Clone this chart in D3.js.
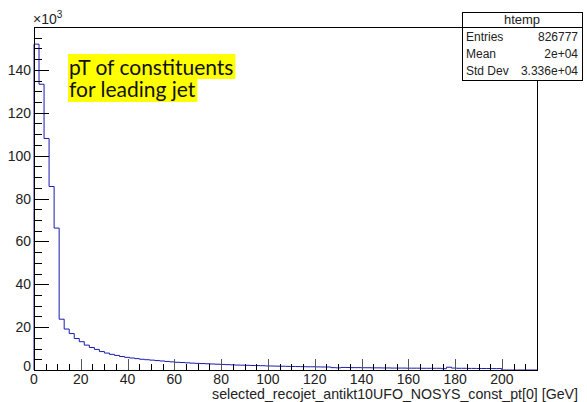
<!DOCTYPE html>
<html>
<head>
<meta charset="utf-8">
<script src="https://cdn.jsdelivr.net/npm/d3@7"></script>
<style>
  body { margin: 0; background: #fff; }
  svg { display: block; }
</style>
</head>
<body>
<script>
// --- Data (counts in units of 10^3, 100 bins of width 2.15 GeV) ---
const binWidth = 2.15;
const counts = [
  152, 133.3, 108, 85.6, 66.2, 23.7, 19.1, 17.0, 14.7, 13.2,
  11.6, 10.5, 9.6, 8.6, 7.9, 7.3, 6.8, 6.3, 5.9, 5.6,
  5.3, 5.0, 4.8, 4.6, 4.4, 4.2, 4.0, 3.8, 3.6, 3.5,
  3.35, 3.2, 3.1, 3.0, 2.9, 2.8, 2.7, 2.6, 2.5, 2.4,
  2.3, 2.25, 2.2, 2.1, 2.05, 2.0, 1.9, 1.85, 1.8, 1.75,
  1.7, 1.65, 1.6, 1.55, 1.5, 1.5, 1.45, 1.4, 1.4, 1.1,
  1.0, 1.2, 1.15, 1.1, 1.1, 1.05, 1.05, 1.0, 1.0, 0.95,
  0.95, 0.9, 0.9, 0.9, 0.85, 0.85, 0.85, 0.8, 0.8, 0.8,
  0.8, 0.6, 1.3, 0.9, 0.8, 0.8, 0.75, 0.75, 0.7, 0.7,
  0.7, 0.65, 0.65, 0, 0, 0, 0, 0, 0, 0
];
const xMajorTicks = [0, 20, 40, 60, 80, 100, 120, 140, 160, 180, 200];
const yMajorTicks = [0, 20, 40, 60, 80, 100, 120, 140];
const statsRows = [["Entries", "826777"], ["Mean", "2e+04"], ["Std Dev", "3.336e+04"]];
const labelLines = ["pT of constituents", "for leading jet"];

// --- Layout ---
const W = 587, H = 402;
const frame = { left: 34, right: 537, top: 27, bottom: 370 };

const x = d3.scaleLinear().domain([0, counts.length * binWidth]).range([frame.left, frame.right]);
const y = d3.scaleLinear().domain([0, 160]).range([frame.bottom, frame.top]);

const svg = d3.select("body").append("svg").attr("width", W).attr("height", H);

// --- Histogram outline (step path) ---
let pts = [[x(0), y(0)]];
counts.forEach((c, i) => {
  pts.push([x(i * binWidth), y(c)]);
  pts.push([x((i + 1) * binWidth), y(c)]);
});
pts.push([x(counts.length * binWidth), y(0)]);
svg.append("path")
  .attr("d", d3.line()(pts))
  .attr("fill", "none")
  .attr("stroke", "#1a1ab0")
  .attr("stroke-width", 1);

// --- Ticks ---
const tickFont = "Liberation Sans, Arial, sans-serif";
const ticks = svg.append("g").attr("stroke", "#000").attr("stroke-width", 1);
const xMinor = d3.range(0, 215.01, 5);
xMinor.forEach(v => {
  const major = v % 20 === 0;
  const len = major ? 11 : 6;
  const px = Math.round(x(v)) + 0.5;
  ticks.append("line").attr("x1", px).attr("x2", px)
    .attr("y1", frame.bottom).attr("y2", frame.bottom - len)
    .attr("stroke", major ? "#555" : "#000");
});
const yMinor = d3.range(0, 160, 5);
yMinor.forEach(v => {
  const major = v % 20 === 0;
  const len = major ? 15 : 8;
  const py = Math.round(y(v)) + 0.5;
  ticks.append("line").attr("x1", frame.left).attr("x2", frame.left + len)
    .attr("y1", py).attr("y2", py);
});

// --- Frame ---
svg.append("rect")
  .attr("x", frame.left + 0.5).attr("y", frame.top + 0.5)
  .attr("width", frame.right - frame.left).attr("height", frame.bottom - frame.top)
  .attr("fill", "none").attr("stroke", "#000");

// --- Tick labels ---
svg.append("g").selectAll("text").data(xMajorTicks).join("text")
  .attr("x", d => x(d)).attr("y", 384)
  .attr("text-anchor", "middle")
  .style("font", `14px ${tickFont}`).attr("fill", "#222")
  .text(d => d);
svg.append("g").selectAll("text").data(yMajorTicks).join("text")
  .attr("x", 31).attr("y", d => y(d) + (d === 0 ? 1 : 5))
  .attr("text-anchor", "end")
  .style("font", `14px ${tickFont}`).attr("fill", "#222")
  .text(d => d);

// exponent label
const exp = svg.append("text").attr("x", 33).attr("y", 24)
  .style("font", `14px ${tickFont}`).attr("fill", "#222");
exp.append("tspan").text("\u00d710");
exp.append("tspan").attr("dy", -6).style("font-size", "10px").text("3");

// axis title
svg.append("text").attr("x", 578).attr("y", 399)
  .attr("text-anchor", "end")
  .style("font", `14.2px ${tickFont}`).attr("fill", "#222")
  .text("selected_recojet_antikt10UFO_NOSYS_const_pt[0] [GeV]");

// --- Stats box ---
const box = { x: 462, y: 12, w: 120, head: 15, row: 17 };
const g = svg.append("g");
g.append("rect").attr("x", box.x + 0.5).attr("y", box.y + 0.5)
  .attr("width", box.w).attr("height", box.head + box.row * statsRows.length + 2)
  .attr("fill", "#fff").attr("stroke", "#000");
g.append("line").attr("x1", box.x).attr("x2", box.x + box.w)
  .attr("y1", box.y + box.head + 0.5).attr("y2", box.y + box.head + 0.5).attr("stroke", "#000");
g.append("text").attr("x", box.x + box.w / 2).attr("y", box.y + 12)
  .attr("text-anchor", "middle").style("font", `13px ${tickFont}`).attr("fill", "#222").text("htemp");
statsRows.forEach((r, i) => {
  const ty = box.y + box.head + 14 + i * box.row;
  g.append("text").attr("x", box.x + 4).attr("y", ty)
    .style("font", `12px ${tickFont}`).attr("fill", "#222").text(r[0]);
  g.append("text").attr("x", box.x + box.w - 4).attr("y", ty)
    .attr("text-anchor", "end").style("font", `12px ${tickFont}`).attr("fill", "#222").text(r[1]);
});

// --- Yellow label (one text block, two lines) ---
const lab = svg.append("g");
const rowTop = [54, 79], rowH = [25, 23], rowBase = [75, 97];
const rectG = lab.append("g");
const txt = lab.append("text")
  .style("font", "21px Lato, sans-serif").attr("fill", "#111");
labelLines.forEach((t, i) => {
  const span = txt.append("tspan").attr("x", 69).attr("y", rowBase[i]).text(t);
  rectG.append("rect")
    .attr("x", 68).attr("y", rowTop[i])
    .attr("width", span.node().getComputedTextLength() + 3).attr("height", rowH[i])
    .attr("fill", "#ffff00");
});
</script>
</body>
</html>
